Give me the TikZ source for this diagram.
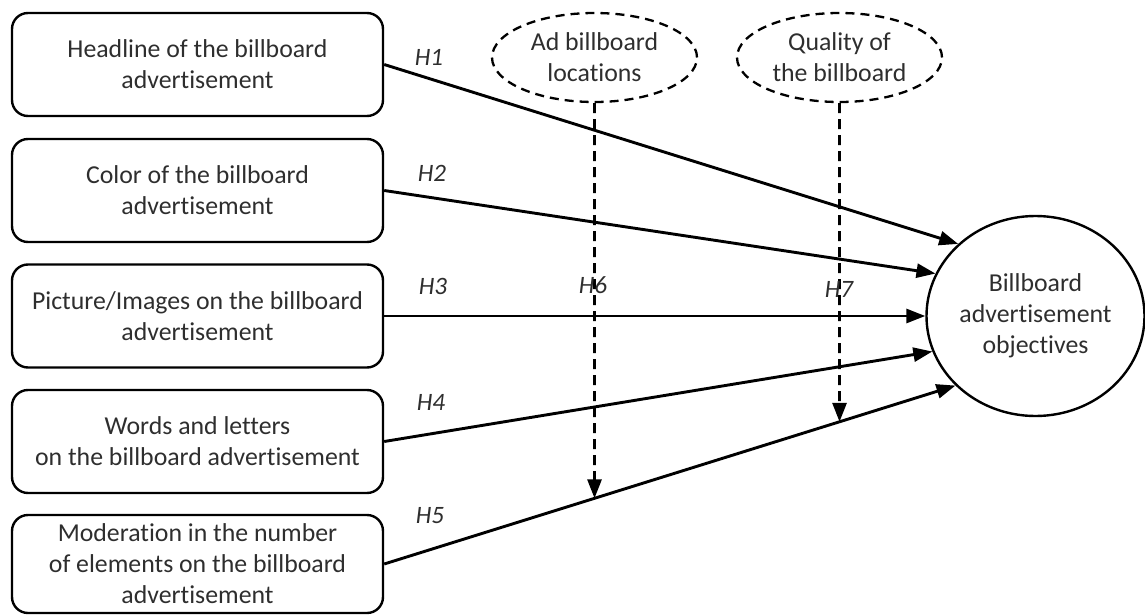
\documentclass[tikz,border=0pt]{standalone}
\usepackage{fontspec}
\setmainfont[Ligatures=NoCommon]{Carlito}
\usetikzlibrary{shapes.geometric,arrows.meta}
\begin{document}
\begin{tikzpicture}[x=1pt,y=-1pt,
  every node/.style={font=\fontsize{25.8}{31}\selectfont, text=black!82},
  factor/.style={draw, line width=2.4pt, rounded corners=16pt, minimum width=371pt, align=center, inner sep=0pt},
  moder/.style={draw, ellipse, dash pattern=on 9pt off 6pt, line width=2.3pt, minimum width=205pt, minimum height=89pt, inner sep=0pt, align=center},
  outcome/.style={draw, ellipse, line width=2.4pt, minimum width=218pt, minimum height=200pt, inner sep=0pt, align=center},
  path/.style={line width=2.9pt, -{Triangle[length=19pt,width=14pt]}},
  modpath/.style={line width=2.9pt, dash pattern=on 10pt off 6pt, -{Triangle[length=19pt,width=14pt]}},
  hlab/.style={font=\fontsize{25}{28}\selectfont\itshape}
]
\useasboundingbox (0,0) rectangle (1145,615);
\node[factor, minimum height=103pt] (b1) at (197.5,64.5) {Headline of the billboard\\advertisement};
\node[factor, minimum height=103pt] (b2) at (197.5,190.5) {Color of the billboard\\advertisement};
\node[factor, minimum height=103pt] (b3) at (197.5,316) {Picture/Images on the billboard\\advertisement};
\node[factor, minimum height=103pt] (b4) at (197.5,441.5) {Words and letters\\on the billboard advertisement};
\node[factor, minimum height=98pt] (b5) at (197.5,564) {Moderation in the number\\of elements on the billboard\\advertisement};
\node[moder] (m1) at (594.5,57.5) {Ad billboard\\locations};
\node[moder] (m2) at (839.5,57.5) {Quality of\\the billboard};
\node[outcome] (obj) at (1035.5,316) {Billboard\\advertisement\\objectives};

\draw[path] (b1.east) -- (obj.137.7);
\draw[path] (b2.east) -- (obj.157.4);
\draw[path] (b3.east) -- (obj.180);
\draw[path] (b4.east) -- (obj.199.6);
\draw[path] (b5.east) -- (obj.221.9);

\coordinate (d6) at (m1.south |- b5.south);
\coordinate (d7) at (m2.south |- b5.south);
\coordinate (t6) at (intersection of b5.east--obj.221.9 and m1.south--d6);
\coordinate (t7) at (intersection of b5.east--obj.221.9 and m2.south--d7);
\draw[modpath] (m1.south) -- (t6);
\draw[modpath] (m2.south) -- (t7);

\node[hlab] (h1) at (429,57) {H1};
\node[hlab] (h2) at (432,173) {H2};
\node[hlab] (h3) at (433,286) {H3};
\node[hlab] (h4) at (431,402) {H4};
\node[hlab] (h5) at (430,516) {H5};
\node[hlab] (h6) at (593,285) {H6};
\node[hlab] (h7) at (839,289) {H7};
\end{tikzpicture}
\end{document}
